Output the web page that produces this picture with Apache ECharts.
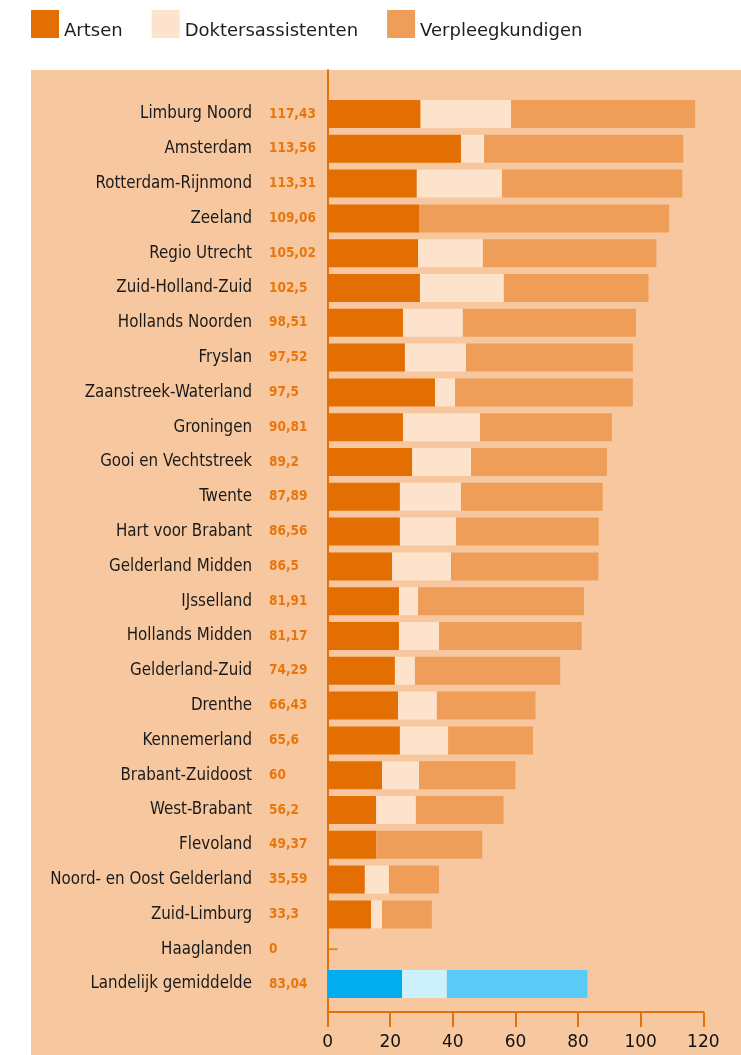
<!DOCTYPE html>
<html>
<head>
<meta charset="utf-8">
<script src="https://cdn.jsdelivr.net/npm/echarts@6/dist/echarts.min.js"></script>
<style>
  html, body { margin: 0; padding: 0; background: #fff; }
  #chart { width: 741px; height: 1055px; }
</style>
</head>
<body>
<div id="chart"></div>
<script>
// regio's, van boven naar beneden
const categories = [
  'Limburg Noord', 'Amsterdam', 'Rotterdam-Rijnmond', 'Zeeland', 'Regio Utrecht',
  'Zuid-Holland-Zuid', 'Hollands Noorden', 'Fryslan', 'Zaanstreek-Waterland', 'Groningen',
  'Gooi en Vechtstreek', 'Twente', 'Hart voor Brabant', 'Gelderland Midden', 'IJsselland',
  'Hollands Midden', 'Gelderland-Zuid', 'Drenthe', 'Kennemerland', 'Brabant-Zuidoost',
  'West-Brabant', 'Flevoland', 'Noord- en Oost Gelderland', 'Zuid-Limburg', 'Haaglanden',
  'Landelijk gemiddelde'
]
const totals = [117.43, 113.56, 113.31, 109.06, 105.02, 102.5, 98.51, 97.52, 97.5, 90.81,
  89.2, 87.89, 86.56, 86.5, 81.91, 81.17, 74.29, 66.43, 65.6, 60, 56.2, 49.37, 35.59, 33.3, 0, 83.04]
const artsen = [29.7, 42.6, 28.5, 29.2, 28.9, 29.5, 24.1, 24.7, 34.3, 24.1,
  27.0, 23.1, 23.1, 20.6, 22.8, 22.8, 21.5, 22.5, 23.1, 17.4, 15.5, 15.5, 11.9, 13.9, 0, 23.8]
const doktersassistenten = [28.9, 7.4, 27.2, 0, 20.7, 26.8, 19.1, 19.5, 6.4, 24.6,
  18.8, 19.5, 17.9, 18.8, 6.1, 12.8, 6.4, 12.4, 15.4, 11.8, 12.7, 0, 7.7, 3.5, 0, 14.3]
const verpleegkundigen = [58.8, 63.6, 57.6, 79.9, 55.4, 46.2, 55.3, 53.3, 56.8, 42.1,
  43.4, 45.3, 45.6, 47.1, 53.0, 45.6, 46.4, 31.5, 27.1, 30.8, 28.0, 33.9, 16.0, 15.9, 0, 44.9]
const xTicks = [0, 20, 40, 60, 80, 100, 120]
const zeroRows = ['Haaglanden']
const averageRow = 'Landelijk gemiddelde'

const orange = { a: '#e36f02', d: '#fde3cb', v: '#ef9e59' }
const blue = { a: '#00aeef', d: '#ccf0fc', v: '#5acaf6' }
const panel = '#f7c89f'
const axisOrange = '#e3720a'

const totalLabels = totals.map((v) => String(v).replace('.', ','))

const chart = echarts.init(document.getElementById('chart'), null, { renderer: 'canvas' })

function stack(name, values, key) {
  return {
    name,
    type: 'bar',
    stack: 'totaal',
    xAxisIndex: 0,
    yAxisIndex: 0,
    barWidth: 28,
    itemStyle: { color: orange[key] },
    emphasis: { disabled: true },
    data: values.map((v, i) => (
      categories[i] === averageRow ? { value: v, itemStyle: { color: blue[key] } } : v
    ))
  }
}

const plotLeft = 327.6
const plotRight = 37.7

chart.setOption({
  animation: false,
  textStyle: { fontFamily: 'DejaVu Sans' },
  graphic: [{
    type: 'rect', left: 31, top: 70, z: -10,
    shape: { width: 710, height: 985 },
    style: { fill: panel }
  }],
  legend: {
    left: 31, top: 8, padding: 0,
    itemWidth: 28, itemHeight: 28, itemGap: 29,
    icon: 'rect',
    selectedMode: false,
    // tekst onderaan naast het blokje
    formatter: (name) => '\n' + name,
    textStyle: { fontSize: 18, lineHeight: 14, color: '#1e1e1e', fontFamily: 'DejaVu Sans' },
    data: ['Artsen', 'Doktersassistenten', 'Verpleegkundigen']
  },
  grid: [
    { left: plotLeft, right: plotRight, top: 96.6, bottom: 53.6 },
    { left: plotLeft, right: plotRight, top: 70, bottom: 43 }
  ],
  xAxis: [
    { gridIndex: 0, type: 'value', min: 0, max: 120, show: false },
    {
      gridIndex: 1, type: 'value', min: 0, max: 120, interval: 20,
      axisLine: { show: true, lineStyle: { color: axisOrange, width: 2 } },
      axisTick: { show: true, length: 15, lineStyle: { color: axisOrange, width: 2 } },
      splitLine: { show: false },
      axisLabel: {
        margin: 22, fontSize: 17, color: '#111', fontFamily: 'DejaVu Sans',
        formatter: (v) => (xTicks.includes(v) ? String(v) : '')
      }
    }
  ],
  yAxis: [
    {
      gridIndex: 0, type: 'category', inverse: true, data: categories,
      axisLine: { show: false }, axisTick: { show: false },
      axisLabel: { margin: 75.6, fontSize: 16.8, color: '#1a1a1a', fontFamily: 'DejaVu Sans Condensed' }
    },
    {
      gridIndex: 0, type: 'category', inverse: true, position: 'left', data: totalLabels,
      axisLine: { show: false }, axisTick: { show: false },
      axisLabel: {
        margin: 58.6, align: 'left', fontSize: 13.5, fontWeight: 'bold',
        color: '#e8760c', fontFamily: 'DejaVu Sans Condensed'
      }
    },
    {
      gridIndex: 1, type: 'value', min: 0, max: 1,
      axisLine: { show: true, lineStyle: { color: axisOrange, width: 2 } },
      axisTick: { show: false }, axisLabel: { show: false }, splitLine: { show: false }
    }
  ],
  series: [
    stack('Artsen', artsen, 'a'),
    stack('Doktersassistenten', doktersassistenten, 'd'),
    stack('Verpleegkundigen', verpleegkundigen, 'v'),
    {
      type: 'scatter',
      xAxisIndex: 0, yAxisIndex: 0,
      symbol: 'rect', symbolSize: [10, 2], symbolOffset: [5, 0],
      itemStyle: { color: axisOrange },
      silent: true,
      data: zeroRows.map((c) => [totals[categories.indexOf(c)], c])
    }
  ]
})

window.addEventListener('resize', () => chart.resize())
</script>
</body>
</html>
